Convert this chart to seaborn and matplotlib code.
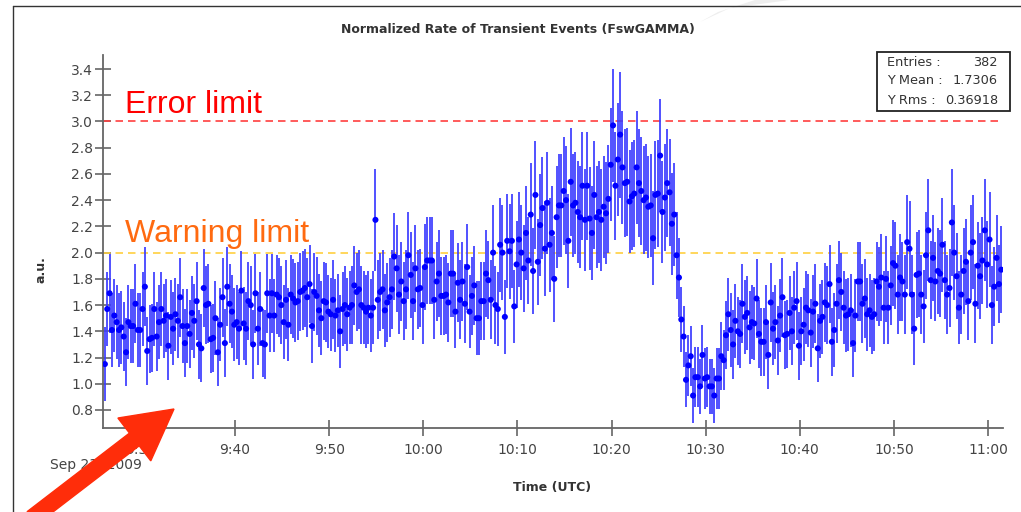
import numpy as np
import pandas as pd
import matplotlib
matplotlib.use("Agg")
import matplotlib.pyplot as plt
import matplotlib.dates as mdates
from matplotlib.patches import FancyArrow, Rectangle, Polygon
from matplotlib.lines import Line2D
from matplotlib.ticker import FuncFormatter, FixedLocator
from matplotlib.transforms import IdentityTransform
import seaborn as sns

# ---------------- data ----------------
title = "Normalized Rate of Transient Events (FswGAMMA)"
x_label = "Time (UTC)"
y_label = "a.u."
date_label = "Sep 23, 2009"
start_time = "2009-09-23 09:26:10"
sample_seconds = 15
x_start = "2009-09-23 09:25:58"
x_end = "2009-09-23 11:01:36"
y_ticks = [0.8, 1.0, 1.2, 1.4, 1.6, 1.8, 2.0, 2.2, 2.4, 2.6, 2.8, 3.0, 3.2, 3.4]
error_limit = 3.0
warning_limit = 2.0
stats_labels = ["Entries :", "Y Mean :", "Y Rms :"]
stats_values = ["382", "1.7306", "0.36918"]

rate_0926 = [1.15, 1.57, 1.69, 1.41, 1.52, 1.47, 1.41, 1.43, 1.36, 1.24,
             1.47, 1.44, 1.44, 1.61, 1.41, 1.41, 1.57, 1.74, 1.25, 1.34,
             1.35, 1.57, 1.36, 1.47, 1.57, 1.48, 1.52, 1.29, 1.51, 1.42,
             1.53, 1.48, 1.66, 1.44, 1.31, 1.44, 1.38, 1.54, 1.48, 1.63,
             1.30, 1.27, 1.73, 1.60, 1.61, 1.34, 1.35, 1.50, 1.24, 1.45,
             1.66, 1.31, 1.74, 1.61, 1.55, 1.45]
err_0926 = [.28, .28, .30, .28, .28, .28, .28, .28, .26, .26,
            .28, .28, .28, .30, .28, .28, .28, .30, .26, .26,
            .26, .28, .26, .28, .28, .28, .28, .26, .28, .28,
            .28, .28, .30, .28, .26, .28, .26, .28, .28, .30,
            .26, .26, .30, .30, .30, .26, .26, .28, .26, .28,
            .30, .26, .30, .30, .28, .28]

rate_0940 = [1.47, 1.42, 1.71, 1.46, 1.42, 1.63, 1.60, 1.30, 1.69, 1.42,
             1.57, 1.31, 1.30, 1.69, 1.52, 1.69, 1.52, 1.68, 1.66, 1.60,
             1.47, 1.64, 1.45, 1.68, 1.65, 1.62, 1.63, 1.70, 1.71, 1.73,
             1.66, 1.76, 1.44, 1.70, 1.67, 1.56, 1.50, 1.63, 1.62, 1.55]
err_0940 = [.28, .28, .30, .28, .28, .30, .30, .26, .30, .28,
            .28, .26, .26, .30, .28, .30, .28, .30, .30, .30,
            .28, .30, .28, .30, .30, .30, .30, .30, .30, .30,
            .30, .30, .28, .30, .30, .28, .28, .30, .30, .28]

rate_0950 = [1.53, 1.64, 1.52, 1.56, 1.40, 1.57, 1.60, 1.53, 1.58, 1.60,
             1.75, 1.70, 1.72, 1.60, 1.58, 1.55, 1.58, 1.52, 1.58, 2.25,
             1.64, 1.70, 1.72, 1.56, 1.62, 1.66, 1.72, 1.97, 1.88, 1.68,
             1.78, 1.63, 1.72, 1.98, 1.83, 1.63, 1.88, 1.72, 1.73, 1.60]
err_0950 = [.28, .30, .28, .28, .28, .28, .30, .28, .28, .30,
            .30, .30, .30, .30, .28, .28, .28, .28, .28, .39,
            .30, .30, .30, .28, .30, .30, .30, .33, .33, .30,
            .30, .30, .30, .33, .33, .30, .33, .30, .30, .30]

rate_1000 = [1.89, 1.94, 1.94, 1.94, 1.64, 1.78, 1.84, 1.67, 1.67, 1.68,
             1.62, 1.84, 1.84, 1.55, 1.77, 1.64, 1.78, 1.61, 1.89, 1.55,
             1.67, 1.75, 1.50, 1.50, 1.63, 1.63, 1.84, 1.79, 1.64, 2.00,
             1.60, 1.57, 2.06, 2.00, 1.51, 2.09, 2.01, 2.09, 1.59, 1.91]
err_1000 = [.33, .33, .33, .33, .30, .30, .33, .30, .30, .30,
            .30, .33, .33, .28, .30, .30, .30, .30, .33, .28,
            .30, .30, .28, .28, .30, .30, .33, .30, .30, .36,
            .30, .28, .36, .36, .28, .36, .36, .36, .28, .33]

rate_1010 = [2.10, 2.00, 1.88, 2.15, 1.94, 2.29, 1.86, 2.44, 1.93, 2.21,
             2.34, 2.03, 2.38, 2.06, 2.15, 1.80, 2.27, 2.36, 2.36, 2.47,
             2.40, 2.09, 2.54, 2.36, 2.38, 2.31, 2.27, 2.51, 2.25, 2.51,
             2.26, 2.15, 2.44, 2.27, 2.31, 2.25, 2.35, 2.30, 2.41, 2.67]
err_1010 = [.36, .36, .33, .36, .33, .39, .33, .41, .33, .39,
            .39, .36, .39, .36, .36, .33, .39, .39, .39, .41,
            .41, .36, .41, .39, .39, .39, .39, .41, .39, .41,
            .39, .36, .41, .39, .39, .39, .39, .39, .41, .43]

rate_1020 = [2.97, 2.51, 2.71, 2.90, 2.65, 2.53, 2.54, 2.39, 2.43, 2.45,
             2.65, 2.53, 2.47, 2.40, 2.42, 2.35, 2.36, 2.11, 2.44, 2.45,
             2.74, 2.31, 2.42, 2.53, 2.46, 2.22, 2.29, 1.98, 1.81, 1.49,
             1.36, 1.03, 1.14, 1.21, 0.91, 1.05, 1.05, 0.98, 1.22, 1.04]
err_1020 = [.43, .41, .43, .48, .43, .41, .41, .39, .41, .41,
            .43, .41, .41, .41, .41, .39, .39, .36, .41, .41,
            .43, .39, .41, .41, .41, .39, .39, .33, .30, .25,
            .23, .21, .23, .23, .21, .23, .23, .21, .23, .23]

rate_1030 = [1.05, 0.98, 0.98, 0.91, 1.04, 1.04, 1.21, 1.18, 1.37, 1.53,
             1.41, 1.30, 1.48, 1.40, 1.38, 1.61, 1.51, 1.54, 1.43, 1.47,
             1.46, 1.65, 1.38, 1.32, 1.32, 1.47, 1.22, 1.62, 1.42, 1.47,
             1.33, 1.52, 1.66, 1.37, 1.38, 1.54, 1.40, 1.58, 1.63, 1.29]
err_1030 = [.23, .21, .21, .21, .23, .23, .26, .23, .26, .28,
            .28, .26, .28, .26, .26, .30, .28, .28, .28, .28,
            .28, .30, .26, .26, .26, .28, .26, .30, .28, .28,
            .26, .28, .30, .26, .26, .28, .26, .28, .30, .26]

rate_1040 = [1.40, 1.45, 1.58, 1.56, 1.39, 1.55, 1.61, 1.27, 1.48, 1.51,
             1.62, 1.60, 1.76, 1.32, 1.41, 1.61, 1.79, 1.70, 1.58, 1.52,
             1.53, 1.56, 1.31, 1.52, 1.78, 1.78, 1.61, 1.65, 1.53, 1.56,
             1.51, 1.53, 1.78, 1.74, 1.81, 1.58, 1.80, 1.58, 1.75, 1.92]
err_1040 = [.26, .28, .28, .28, .26, .28, .30, .26, .28, .28,
            .30, .30, .30, .26, .28, .30, .30, .30, .28, .28,
            .28, .28, .26, .28, .30, .30, .30, .30, .28, .28,
            .28, .28, .30, .30, .33, .28, .33, .28, .30, .33]

rate_1050 = [1.90, 1.68, 1.81, 1.78, 1.68, 2.08, 2.03, 1.68, 1.42, 1.83,
             1.84, 1.68, 1.59, 1.98, 2.17, 1.79, 1.96, 1.78, 1.86, 1.84,
             2.06, 1.79, 1.68, 1.73, 2.23, 2.00, 1.82, 1.58, 1.68, 1.86,
             1.93, 1.63, 2.00, 2.08, 1.61, 1.90, 1.82, 1.94, 2.17, 1.91,
             2.10, 1.60, 1.74, 1.96, 1.76, 1.87]
err_1050 = [.33, .30, .33, .30, .30, .36, .36, .30, .28, .33,
            .33, .30, .28, .33, .39, .30, .33, .30, .33, .33,
            .36, .30, .30, .30, .41, .36, .33, .28, .30, .33,
            .33, .30, .36, .36, .30, .33, .33, .33, .39, .33,
            .36, .30, .30, .33, .30, .33]

rate = (rate_0926 + rate_0940 + rate_0950 + rate_1000 + rate_1010 +
        rate_1020 + rate_1030 + rate_1040 + rate_1050)
err = (err_0926 + err_0940 + err_0950 + err_1000 + err_1010 +
       err_1020 + err_1030 + err_1040 + err_1050)
times = pd.date_range(start_time, periods=len(rate), freq=f"{sample_seconds}s")
df = pd.DataFrame({"time": times, "rate": rate, "err": err})

# ---------------- figure ----------------
W, H = 1021, 512
sns.set_style("white")
plt.rcParams["font.family"] = ["DejaVu Sans"]

fig = plt.figure(figsize=(W / 100, H / 100), dpi=100)
fig.patch.set_facecolor("white")


def fx(px):
    return px / W


def fy(py):
    return 1 - py / H


ax = fig.add_axes([fx(103), fy(428), 900 / W, 373 / H])

ax.errorbar(df["time"], df["rate"], yerr=df["err"], fmt="none",
            ecolor="#3c3cff", elinewidth=1.25, capsize=0, zorder=2)
sns.scatterplot(data=df, x="time", y="rate", ax=ax, color="#0000ff",
                s=19, edgecolor="none", linewidth=0, zorder=3, legend=False)

ax.axhline(error_limit, color="#ff4040", lw=1.2, dashes=(4.5, 3), zorder=1)
ax.axhline(warning_limit, color="#ffd040", lw=1.2, dashes=(4.5, 3), zorder=1)

ax.set_xlim(pd.Timestamp(x_start), pd.Timestamp(x_end))
ax.set_ylim(0.6626, 3.507)
ax.set_xlabel("")
ax.set_ylabel("")

ax.xaxis.set_major_locator(mdates.MinuteLocator(byminute=[0, 10, 20, 30, 40, 50]))


def time_fmt(v, pos):
    d = mdates.num2date(v)
    return f"{d.hour}:{d.minute:02d}"


ax.xaxis.set_major_formatter(FuncFormatter(time_fmt))
ax.yaxis.set_major_locator(FixedLocator(y_ticks))
ax.yaxis.set_major_formatter(FuncFormatter(lambda v, p: f"{v:.1f}"))

for s in ["top", "right"]:
    ax.spines[s].set_visible(False)
for s in ["left", "bottom"]:
    ax.spines[s].set_color("#666666")
    ax.spines[s].set_linewidth(1.3)

ax.tick_params(axis="both", which="major", bottom=True, left=True,
               direction="inout", length=12, width=1.2,
               color="#666666", labelcolor="#444444", labelsize=10)
ax.tick_params(axis="x", pad=4.5)
ax.tick_params(axis="y", pad=1)
ax.grid(False)

# ---------------- texts ----------------
fig.text(fx(518), fy(30), title, ha="center", va="center", fontsize=9,
         fontweight="bold", color="#333333")
fig.text(fx(552), fy(488), x_label, ha="center", va="center", fontsize=9,
         fontweight="bold", color="#333333")
fig.text(fx(41), fy(270), y_label, ha="center", va="center", fontsize=9,
         fontweight="bold", color="#333333", rotation=90)
fig.text(fx(50), fy(465), date_label, ha="left", va="center", fontsize=10,
         color="#444444")

fig.text(fx(125), fy(113), "Error limit", ha="left", va="baseline",
         fontsize=23, color="#ff0000", family="Liberation Sans")
fig.text(fx(125), fy(242), "Warning limit", ha="left", va="baseline",
         fontsize=23, color="#ff6a10", family="Liberation Sans")

# stats box
fig.add_artist(Rectangle((fx(877), fy(111)), 133 / W, 59 / H,
                         transform=fig.transFigure, facecolor="white",
                         edgecolor="#222222", lw=1.3, zorder=5))
for i, (lab, val) in enumerate(zip(stats_labels, stats_values)):
    yy = fy(62 + 19 * i)
    fig.text(fx(887), yy, lab, ha="left", va="center", fontsize=9.3,
             color="#333333", zorder=6)
    fig.text(fx(998), yy, val, ha="right", va="center", fontsize=9.3,
             color="#333333", zorder=6)

# slide frame
fig.add_artist(Line2D([fx(13), fx(1021)], [fy(6), fy(6)],
                      transform=fig.transFigure, color="#333333", lw=1.0))
fig.add_artist(Line2D([fx(13), fx(13)], [fy(6), fy(512)],
                      transform=fig.transFigure, color="#333333", lw=1.0))

# faint gray stroke at top
fig.add_artist(Polygon([(fx(700), fy(22)), (fx(730), fy(8)), (fx(790), fy(0)),
                        (fx(755), fy(0)), (fx(718), fy(12))],
                       closed=True, transform=fig.transFigure,
                       facecolor="#eeeeee", edgecolor="none", zorder=0))

# red arrow annotation (pixel coordinates)
fig.add_artist(FancyArrow(32, H - 518, 142, 109, width=16, head_width=54,
                          head_length=50, length_includes_head=True,
                          transform=IdentityTransform(), color="#ff2d0a",
                          zorder=10))

fig.savefig("out.png", dpi=100)
